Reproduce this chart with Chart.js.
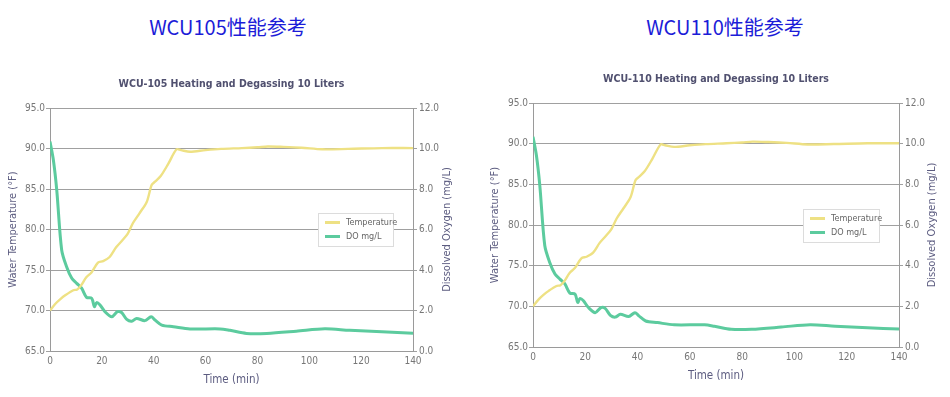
<!DOCTYPE html>
<html>
<head>
<meta charset="utf-8">
<script src="https://cdn.jsdelivr.net/npm/chart.js@4.4.1/dist/chart.umd.min.js"></script>
<style>
  body { margin: 0; background: #fff; width: 950px; height: 397px; position: relative; overflow: hidden; }
  .titulo { position: absolute; top: 15px; font: 20px "Noto Sans CJK SC", sans-serif; color: #1c1cd8; line-height: 24px; transform: translateX(-50%); white-space: nowrap; }
  .caixa { position: absolute; }
</style>
</head>
<body>
<div class="titulo" style="left:228px">WCU105性能参考</div>
<div class="titulo" style="left:725px">WCU110性能参考</div>
<div class="caixa" style="left:0;top:60px;width:475px;height:337px"><canvas id="grafico-105"></canvas></div>
<div class="caixa" style="left:480px;top:55px;width:470px;height:342px"><canvas id="grafico-110"></canvas></div>
<script>
// tempo (min) e temperatura (°F)
const tempoTemp = [0, 2, 4, 6, 9, 10.5, 12, 14, 16, 18.5, 20.5, 23, 25.5, 28, 30, 32, 34.5, 37.3, 39.2, 40.5, 42.7, 45.6, 48.8, 50.5, 54, 60, 66, 74, 80, 84, 90, 97, 105, 115, 128, 140];
const temperatura = [70.0, 70.8, 71.4, 71.9, 72.5, 72.6, 73.1, 74.1, 74.7, 75.9, 76.1, 76.6, 77.8, 78.7, 79.5, 80.8, 82.0, 83.4, 85.5, 85.9, 86.6, 88.1, 89.9, 89.8, 89.6, 89.8, 89.95, 90.05, 90.15, 90.25, 90.2, 90.1, 89.9, 89.95, 90.05, 90.05];

// tempo (min) e oxigênio dissolvido (mg/L)
const tempoDO = [0, 1.3, 2.6, 4.5, 6.4, 8.4, 10.3, 12.2, 14.1, 16.1, 17.1, 18, 19.3, 21.2, 23.8, 26, 27.6, 29.6, 31.5, 33.4, 36.6, 39, 40.5, 43.1, 47.6, 54, 65.6, 69.4, 75.8, 83.6, 95, 106, 115.6, 128, 140];
const oxigenio = [10.34, 9.43, 7.95, 4.99, 4.16, 3.59, 3.34, 3.1, 2.65, 2.6, 2.19, 2.39, 2.27, 1.94, 1.69, 1.94, 1.9, 1.56, 1.47, 1.61, 1.5, 1.69, 1.53, 1.28, 1.2, 1.09, 1.09, 1.02, 0.87, 0.87, 0.98, 1.1, 1.02, 0.95, 0.88];

const rotulosSerie = ["Temperature", "DO mg/L"];
const FONTE = "'Liberation Sans Narrow', 'DejaVu Sans Condensed', sans-serif";
const COR_TITULO_EIXO = "#5c5c80";

// legenda desenhada dentro da área do gráfico + título do eixo direito lido de baixo pra cima
const extrasGrafico = {
  id: "extrasGrafico",
  afterDatasetsDraw(chart, args, opts) {
    const { ctx, chartArea } = chart;
    const lg = opts.legenda;
    const x = chartArea.right - lg.right - lg.width;
    const y = chartArea.top + lg.top;
    ctx.save();
    ctx.fillStyle = "#fff";
    ctx.fillRect(x, y, lg.width, lg.height);
    ctx.strokeStyle = "#dcdcdc";
    ctx.lineWidth = 1;
    ctx.strokeRect(x + 0.5, y + 0.5, lg.width, lg.height);
    ctx.font = "9px " + FONTE;
    ctx.textBaseline = "middle";
    chart.data.datasets.forEach((ds, i) => {
      const ly = y + 9.5 + i * 14;
      ctx.strokeStyle = ds.borderColor;
      ctx.lineWidth = 3;
      ctx.beginPath();
      ctx.moveTo(x + 7, ly);
      ctx.lineTo(x + 22, ly);
      ctx.stroke();
      ctx.fillStyle = "#666";
      ctx.fillText(ds.label, x + 28, ly);
    });

    // título do eixo y1
    ctx.translate(chart.width - opts.tituloDireita, (chartArea.top + chartArea.bottom) / 2);
    ctx.rotate(-Math.PI / 2);
    ctx.font = "11px " + FONTE;
    ctx.fillStyle = COR_TITULO_EIXO;
    ctx.textAlign = "center";
    ctx.textBaseline = "middle";
    ctx.fillText(opts.textoDireita, 0, 0);
    ctx.restore();
  }
};

function criarGrafico(id, titulo, g) {
  return new Chart(document.getElementById(id), {
    type: "line",
    data: {
      datasets: [{
        label: rotulosSerie[0],
        data: tempoTemp.map((t, i) => ({ x: t, y: temperatura[i] })),
        borderColor: "#eee184",
        borderWidth: 2.4,
        pointRadius: 0,
        tension: 0.3,
        yAxisID: "y",
      }, {
        label: rotulosSerie[1],
        data: tempoDO.map((t, i) => ({ x: t, y: oxigenio[i] })),
        borderColor: "#5ccb9e",
        borderWidth: 3,
        pointRadius: 0,
        tension: 0.3,
        yAxisID: "y1",
      }],
    },
    options: {
      responsive: true,
      maintainAspectRatio: false,
      animation: false,
      layout: { padding: 0 },
      plugins: {
        legend: { display: false },
        tooltip: { enabled: false },
        title: {
          display: true,
          text: titulo,
          fullSize: false,
          color: "#50506f",
          font: { family: FONTE, size: 10.5, weight: "bold" },
          padding: { top: 18, bottom: 17.4 },
        },
        extrasGrafico: {
          legenda: g.legenda,
          tituloDireita: g.tituloY1,
          textoDireita: "Dissolved Oxygen (mg/L)",
        },
      },
      scales: {
        x: {
          type: "linear",
          min: 0,
          max: 140,
          ticks: { stepSize: 20, color: "#777", padding: 4, font: { family: FONTE, size: 10 } },
          grid: { display: false, drawTicks: false },
          border: { display: true, color: "#9a9a9a" },
          title: { display: true, text: "Time (min)", color: COR_TITULO_EIXO, font: { family: FONTE, size: 11.5 }, padding: { bottom: g.tituloX } },
          afterFit: (s) => { s.height = g.alturaX; },
        },
        y: {
          position: "left",
          min: 65,
          max: 95,
          ticks: { stepSize: 5, color: "#777", padding: 1, font: { family: FONTE, size: 10 }, callback: (v) => v.toFixed(1) },
          grid: { color: "#a0a0a0", tickLength: 4 },
          border: { display: true, color: "#9a9a9a" },
          title: { display: true, text: "Water Temperature (°F)", color: COR_TITULO_EIXO, font: { family: FONTE, size: 11 }, padding: { top: g.tituloY } },
          afterFit: (s) => { s.width = g.larguraY; },
        },
        y1: {
          position: "right",
          min: 0,
          max: 12,
          ticks: { stepSize: 2, color: "#777", padding: 2, font: { family: FONTE, size: 10 }, callback: (v) => v.toFixed(1) },
          grid: { drawOnChartArea: false, color: "#a0a0a0", tickLength: 4 },
          border: { display: true, color: "#9a9a9a" },
          afterFit: (s) => { s.width = g.larguraY1; },
        },
      },
    },
    plugins: [extrasGrafico],
  });
}

criarGrafico("grafico-105", "WCU-105 Heating and Degassing 10 Liters", {
  larguraY: 50, larguraY1: 62, alturaX: 46,
  tituloY: 6.4, tituloY1: 28, tituloX: 10,
  legenda: { right: 20, top: 105, width: 75, height: 33 },
});

criarGrafico("grafico-110", "WCU-110 Heating and Degassing 10 Liters", {
  larguraY: 53, larguraY1: 51, alturaX: 50,
  tituloY: 8.4, tituloY1: 18.3, tituloX: 14,
  legenda: { right: 20, top: 106, width: 76, height: 33 },
});
</script>
</body>
</html>
